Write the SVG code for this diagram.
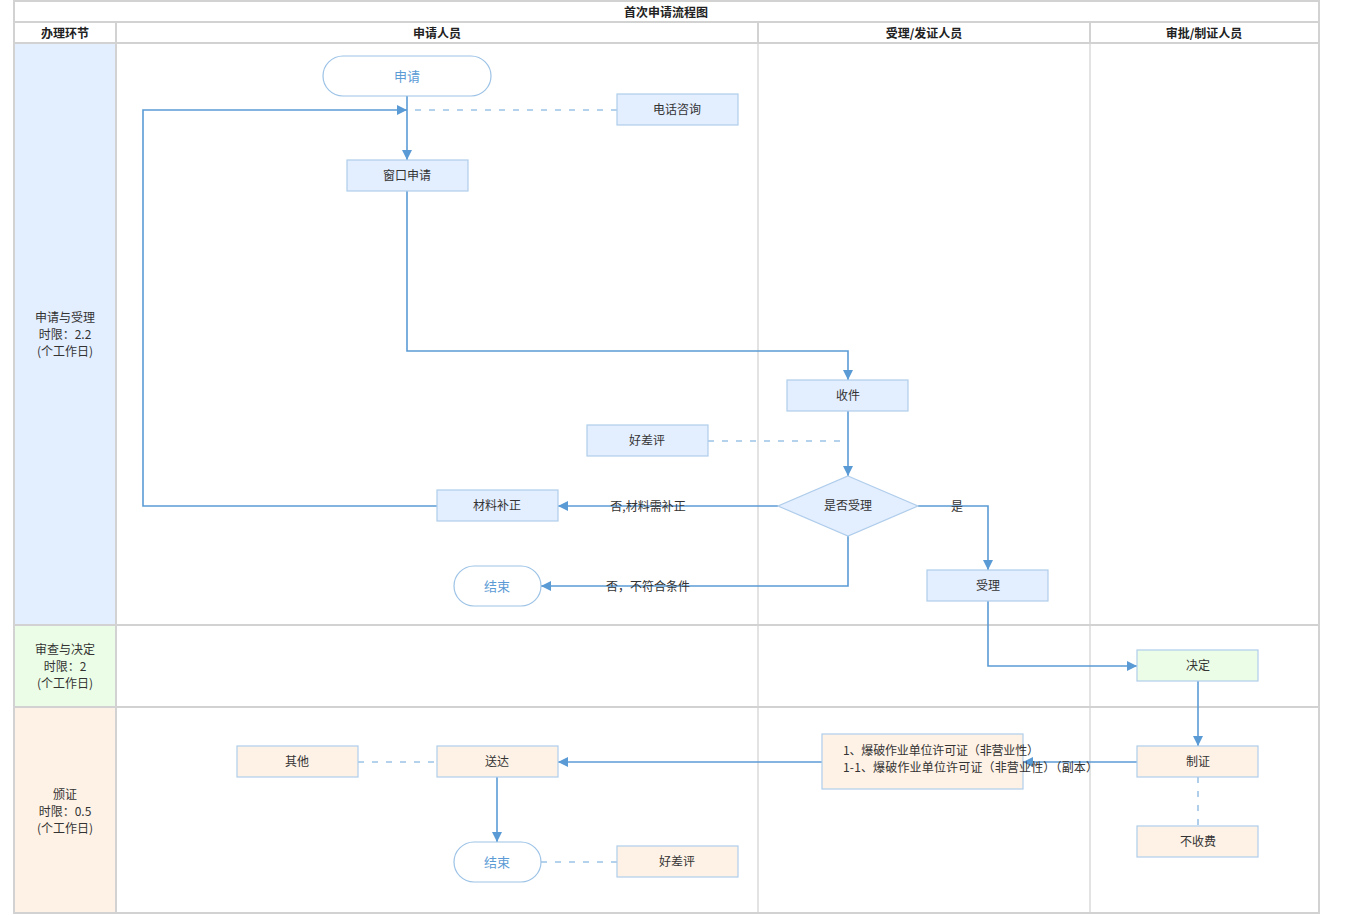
<svg xmlns="http://www.w3.org/2000/svg" width="1350" height="915" viewBox="0 0 1350 915">
<defs>
<marker id="ah" viewBox="0 0 10 10" refX="10" refY="5" markerWidth="10" markerHeight="10" markerUnits="userSpaceOnUse" orient="auto">
<path d="M0,0 L10,5 L0,10 z" fill="#5b9bd5"/>
</marker>
<style>
text{font-family:"Noto Sans CJK SC","Liberation Sans",sans-serif;font-size:12px;fill:#333;}
.hd{font-weight:bold;fill:#222;}
.grid{stroke:#d2d2d2;stroke-width:2;fill:none;}
.sep{stroke:#e3e3e3;stroke-width:2;fill:none;}
.blue{fill:#e3eeff;stroke:#afcdeb;stroke-width:1.2;}
.green{fill:#ebfde6;stroke:#afcdeb;stroke-width:1.2;}
.peach{fill:#fef2e6;stroke:#afcdeb;stroke-width:1.2;}
.term{fill:#fff;stroke:#9dc3e6;stroke-width:1.2;}
.tt{fill:#5b9bd5;font-size:13px;}
.c{stroke:#5b9bd5;stroke-width:1.6;fill:none;marker-end:url(#ah);}
.d{stroke:#9dc3e6;stroke-width:1.6;fill:none;stroke-dasharray:6,8;}
</style>
</defs>
<rect width="1350" height="915" fill="#fff"/>
<g id="table">
<rect x="15" y="44" width="101" height="581" fill="#e3eeff"/>
<rect x="15" y="626" width="101" height="81" fill="#ebfde6"/>
<rect x="15" y="708" width="101" height="205" fill="#fef2e6"/>
<line class="sep" x1="758" y1="43" x2="758" y2="913"/>
<line class="sep" x1="1090" y1="43" x2="1090" y2="913"/>
<rect class="grid" x="14" y="1" width="1305" height="912"/>
<line class="grid" x1="14" y1="22" x2="1319" y2="22"/>
<line class="grid" x1="14" y1="43" x2="1319" y2="43"/>
<line class="grid" x1="116" y1="22" x2="116" y2="913"/>
<line class="grid" x1="758" y1="22" x2="758" y2="43"/>
<line class="grid" x1="1090" y1="22" x2="1090" y2="43"/>
<line class="grid" x1="14" y1="625" x2="1319" y2="625"/>
<line class="grid" x1="14" y1="707" x2="1319" y2="707"/>
<text class="hd" x="666" y="17" text-anchor="middle">首次申请流程图</text>
<text class="hd" x="65" y="38" text-anchor="middle">办理环节</text>
<text class="hd" x="437" y="38" text-anchor="middle">申请人员</text>
<text class="hd" x="924" y="38" text-anchor="middle">受理/发证人员</text>
<text class="hd" x="1204" y="38" text-anchor="middle">审批/制证人员</text>
<text x="65" y="322" text-anchor="middle">申请与受理</text>
<text x="65" y="339" text-anchor="middle">时限：2.2</text>
<text x="65" y="356" text-anchor="middle">(个工作日)</text>
<text x="65" y="654" text-anchor="middle">审查与决定</text>
<text x="65" y="671" text-anchor="middle">时限：2</text>
<text x="65" y="688" text-anchor="middle">(个工作日)</text>
<text x="65" y="799" text-anchor="middle">颁证</text>
<text x="65" y="816" text-anchor="middle">时限：0.5</text>
<text x="65" y="833" text-anchor="middle">(个工作日)</text>
</g>
<g id="connectors">
<path class="c" d="M407,96 L407,160"/>
<path class="d" d="M617,110 L412,110"/>
<path class="c" d="M437,506 L143,506 L143,110 L407,110"/>
<path class="c" d="M407,191 L407,351 L848,351 L848,380"/>
<path class="c" d="M848,411 L848,476"/>
<path class="d" d="M708,441 L848,441"/>
<path class="c" d="M778,506 L558,506"/>
<path class="c" d="M848,536 L848,586 L541,586"/>
<path class="c" d="M918,506 L988,506 L988,570"/>
<path class="c" d="M988,601 L988,666 L1137,666"/>
<path class="c" d="M1198,681 L1198,746"/>
<path class="c" d="M1137,762 L1023,762"/>
<path class="d" d="M1198,777 L1198,826"/>
<path class="c" d="M822,762 L558,762"/>
<path class="d" d="M358,762 L437,762"/>
<path class="c" d="M497,777 L497,842"/>
<path class="d" d="M541,862 L617,862"/>
<text x="648" y="511" text-anchor="middle">否,材料需补正</text>
<text x="648" y="591" text-anchor="middle">否，不符合条件</text>
<text x="957" y="511" text-anchor="middle">是</text>
</g>
<g id="n-shenqing"><rect class="term" x="323" y="56" width="168" height="40" rx="20"/><text class="tt" x="407" y="81" text-anchor="middle">申请</text></g>
<g id="n-dianhua"><rect class="blue" x="617" y="94" width="121" height="31"/><text x="677" y="114" text-anchor="middle">电话咨询</text></g>
<g id="n-chuangkou"><rect class="blue" x="347" y="160" width="121" height="31"/><text x="407" y="180" text-anchor="middle">窗口申请</text></g>
<g id="n-shoujian"><rect class="blue" x="787" y="380" width="121" height="31"/><text x="848" y="400" text-anchor="middle">收件</text></g>
<g id="n-haocha1"><rect class="blue" x="587" y="425" width="121" height="31"/><text x="647" y="445" text-anchor="middle">好差评</text></g>
<g id="n-shifou"><polygon class="blue" points="848,476 918,506 848,536 778,506"/><text x="848" y="510" text-anchor="middle">是否受理</text></g>
<g id="n-cailiao"><rect class="blue" x="437" y="490" width="121" height="31"/><text x="497" y="510" text-anchor="middle">材料补正</text></g>
<g id="n-jieshu1"><rect class="term" x="454" y="566" width="87" height="40" rx="20"/><text class="tt" x="497" y="591" text-anchor="middle">结束</text></g>
<g id="n-shouli"><rect class="blue" x="927" y="570" width="121" height="31"/><text x="988" y="590" text-anchor="middle">受理</text></g>
<g id="n-jueding"><rect class="green" x="1137" y="650" width="121" height="31"/><text x="1198" y="670" text-anchor="middle">决定</text></g>
<g id="n-zhizheng"><rect class="peach" x="1137" y="746" width="121" height="31"/><text x="1198" y="766" text-anchor="middle">制证</text></g>
<g id="n-bushoufei"><rect class="peach" x="1137" y="826" width="121" height="31"/><text x="1198" y="846" text-anchor="middle">不收费</text></g>
<g id="n-zhengzhao"><rect class="peach" x="822" y="734" width="201" height="55"/><text x="843" y="755" textLength="196" lengthAdjust="spacing">1、爆破作业单位许可证（非营业性）</text><text x="843" y="772" textLength="255" lengthAdjust="spacing">1-1、爆破作业单位许可证（非营业性）（副本）</text></g>
<g id="n-songda"><rect class="peach" x="437" y="746" width="121" height="31"/><text x="497" y="766" text-anchor="middle">送达</text></g>
<g id="n-qita"><rect class="peach" x="237" y="746" width="121" height="31"/><text x="297" y="766" text-anchor="middle">其他</text></g>
<g id="n-jieshu2"><rect class="term" x="454" y="842" width="87" height="40" rx="20"/><text class="tt" x="497" y="867" text-anchor="middle">结束</text></g>
<g id="n-haocha2"><rect class="peach" x="617" y="846" width="121" height="31"/><text x="677" y="866" text-anchor="middle">好差评</text></g>
</svg>
